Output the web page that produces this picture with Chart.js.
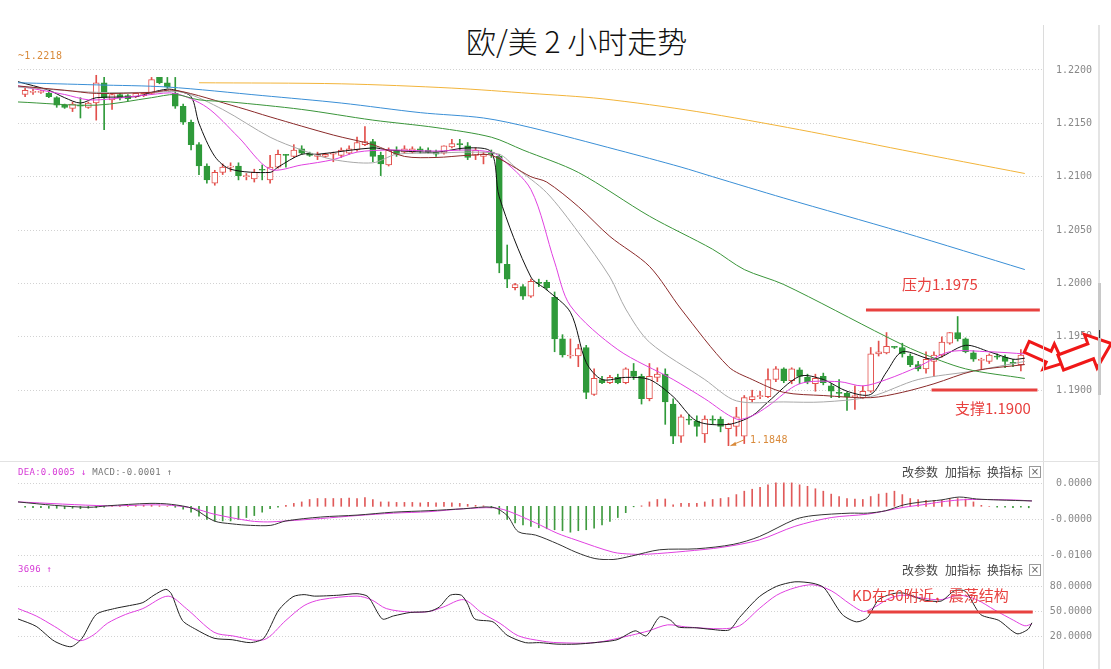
<!DOCTYPE html>
<html>
<head>
<meta charset="utf-8">
<script src="https://cdn.jsdelivr.net/npm/chart.js@4.4.0/dist/chart.umd.min.js"></script>
<style>
  body { margin:0; background:#fff; width:1111px; height:669px; overflow:hidden; position:relative; font-family:"Noto Sans CJK SC", sans-serif; }
  canvas { position:absolute; left:0; }
  .t { position:absolute; white-space:nowrap; line-height:1; }
  .mono { font-family:"DejaVu Sans Mono", monospace; font-size:9px; letter-spacing:0.3px; }
  .btn { font-size:12px; color:#444; }
  .box { position:absolute; width:10px; height:10px; border:1px solid #999; font-size:10px; line-height:10px; text-align:center; color:#666; font-family:"DejaVu Sans", sans-serif; }
  .red { color:#e8413f; font-size:15px; }
  .ln { position:absolute; }
</style>
</head>
<body>

<div class="t" style="left:466px;top:25px;font-size:30px;font-weight:300;color:#111;">欧/美 2 小时走势</div>

<canvas id="main" width="1111" height="470" style="top:0"></canvas>
<canvas id="macd" width="1111" height="109" style="top:461px"></canvas>
<canvas id="kd" width="1111" height="112" style="top:557px"></canvas>

<!-- frame lines -->
<div class="ln" style="left:1043px;top:25px;width:1px;height:644px;background:#dcdcdc"></div>
<div class="ln" style="left:0;top:461px;width:1098px;height:1px;background:#e2e2e2"></div>
<div class="ln" style="left:1098px;top:25px;width:2px;height:644px;background:#e4e4e4"></div>
<div class="ln" style="left:1098px;top:283px;width:3px;height:112px;background:#c8c8c8"></div>
<div class="ln" style="left:1099px;top:330px;width:1px;height:8px;background:#333"></div>

<!-- texts -->
<div class="t mono" style="left:18px;top:51px;color:#d98a3a;font-size:10px;">~1.2218</div>
<div class="t red" style="left:902px;top:276px;">压力1.1975</div>
<div class="t red" style="left:955px;top:400px;">支撑1.1900</div>
<div class="t mono" style="left:750px;top:435px;color:#d98a3a;font-size:10px;">1.1848</div>

<div class="t mono" style="left:18px;top:468px;"><span style="color:#d63ad6">DEA:0.0005 ↓</span> <span style="color:#777">MACD:-0.0001 ↑</span></div>
<div class="t btn" style="left:902px;top:466px;">改参数</div>
<div class="t btn" style="left:945px;top:466px;">加指标</div>
<div class="t btn" style="left:987px;top:466px;">换指标</div>
<div class="box" style="left:1029px;top:466px;">×</div>

<div class="t mono" style="left:18px;top:565px;color:#d63ad6">3696 ↑</div>
<div class="t btn" style="left:902px;top:564px;">改参数</div>
<div class="t btn" style="left:945px;top:564px;">加指标</div>
<div class="t btn" style="left:987px;top:564px;">换指标</div>
<div class="box" style="left:1029px;top:564px;">×</div>
<div class="t red" style="left:852px;top:587px;">KD在50附近，震荡结构</div>

<script>
// ---- candles (EUR/USD, 2h) ----
var opens  = [1.2177,1.2179,1.2179,1.2178,1.2174,1.2167,1.2164,1.2167,1.2165,1.2169,1.2188,1.2172,1.2177,1.2176,1.2175,1.2176,1.2178,1.2193,1.2188,1.2178,
              1.2166,1.2151,1.2130,1.2110,1.2094,1.2104,1.2109,1.2110,1.2100,1.2098,1.2107,1.2097,1.2109,1.2121,1.2119,1.2126,1.2122,1.2119,1.2119,1.2121,
              1.2120,1.2122,1.2125,1.2130,1.2133,1.2120,1.2111,1.2125,1.2123,1.2123,1.2126,1.2125,1.2123,1.2122,1.2128,1.2131,1.2129,1.2120,1.2119,1.2123,
              1.2119,1.2018,1.1996,1.1997,1.1988,1.2001,1.2001,1.1987,1.1948,1.1932,1.1932,1.1940,1.1896,1.1910,1.1907,1.1912,1.1907,1.1918,1.1913,1.1892,
              1.1912,1.1915,1.1887,1.1857,1.1873,1.1871,1.1859,1.1873,1.1873,1.1864,1.1866,1.1857,1.1891,1.1894,1.1894,1.1910,1.1920,1.1909,1.1919,1.1912,
              1.1906,1.1913,1.1904,1.1898,1.1897,1.1894,1.1893,1.1899,1.1934,1.1935,1.1941,1.1940,1.1932,1.1924,1.1920,1.1927,1.1933,1.1944,1.1954,1.1948,
              1.1935,1.1928,1.1927,1.1932,1.1931,1.1926,1.1924];
var highs  = [1.2183,1.2182,1.2181,1.2179,1.2175,1.2168,1.2170,1.2174,1.2170,1.2195,1.2193,1.2178,1.2178,1.2177,1.2179,1.2179,1.2193,1.2193,1.2193,1.2193,
              1.2168,1.2153,1.2132,1.2112,1.2106,1.2112,1.2113,1.2113,1.2103,1.2107,1.2111,1.2120,1.2125,1.2121,1.2130,1.2129,1.2123,1.2123,1.2122,1.2123,
              1.2127,1.2129,1.2137,1.2147,1.2135,1.2123,1.2127,1.2128,1.2129,1.2128,1.2128,1.2127,1.2125,1.2129,1.2135,1.2135,1.2132,1.2127,1.2123,1.2125,
              1.2121,1.2036,1.2000,1.1999,1.2004,1.2004,1.2003,1.1992,1.1952,1.1948,1.1943,1.1942,1.1920,1.1913,1.1914,1.1915,1.1921,1.1925,1.1915,1.1925,
              1.1921,1.1920,1.1892,1.1877,1.1877,1.1876,1.1876,1.1876,1.1875,1.1869,1.1884,1.1895,1.1900,1.1899,1.1920,1.1922,1.1921,1.1921,1.1921,1.1915,
              1.1915,1.1916,1.1906,1.1910,1.1898,1.1904,1.1904,1.1940,1.1946,1.1954,1.1941,1.1944,1.1934,1.1927,1.1936,1.1936,1.1950,1.1954,1.1969,1.1949,
              1.1937,1.1930,1.1934,1.1934,1.1933,1.1929,1.1938];
var lows   = [1.2175,1.2177,1.2178,1.2174,1.2165,1.2164,1.2161,1.2155,1.2164,1.2153,1.2144,1.2163,1.2172,1.2171,1.2174,1.2175,1.2177,1.2187,1.2183,1.2164,
              1.2149,1.2125,1.2102,1.2094,1.2092,1.2102,1.2105,1.2097,1.2097,1.2095,1.2097,1.2094,1.2108,1.2109,1.2118,1.2121,1.2119,1.2116,1.2118,1.2114,
              1.2118,1.2121,1.2124,1.2129,1.2114,1.2101,1.2110,1.2119,1.2122,1.2122,1.2122,1.2122,1.2119,1.2121,1.2127,1.2125,1.2116,1.2116,1.2112,1.2118,
              1.2010,1.1996,1.1994,1.1985,1.1987,1.1997,1.1994,1.1936,1.1931,1.1930,1.1922,1.1892,1.1895,1.1906,1.1906,1.1906,1.1906,1.1910,1.1887,1.1890,
              1.1908,1.1868,1.1850,1.1851,1.1868,1.1857,1.1851,1.1868,1.1861,1.1848,1.1857,1.1850,1.1889,1.1892,1.1893,1.1908,1.1907,1.1906,1.1906,1.1906,
              1.1899,1.1905,1.1893,1.1893,1.1881,1.1882,1.1892,1.1898,1.1932,1.1934,1.1939,1.1931,1.1922,1.1918,1.1916,1.1913,1.1931,1.1943,1.1946,1.1935,
              1.1927,1.1920,1.1925,1.1929,1.1921,1.1922,1.1918];
var closes = [1.2181,1.2179,1.2179,1.2175,1.2167,1.2165,1.2168,1.2166,1.2169,1.2188,1.2174,1.2177,1.2174,1.2173,1.2178,1.2178,1.2191,1.2188,1.2184,1.2166,
              1.2151,1.2130,1.2110,1.2097,1.2104,1.2109,1.2110,1.2101,1.2100,1.2104,1.2106,1.2109,1.2121,1.2120,1.2125,1.2122,1.2120,1.2121,1.2121,1.2121,
              1.2125,1.2126,1.2132,1.2133,1.2119,1.2112,1.2125,1.2121,1.2126,1.2126,1.2124,1.2123,1.2121,1.2129,1.2131,1.2130,1.2118,1.2125,1.2121,1.2121,
              1.2019,1.2004,1.1999,1.1988,1.2002,1.2000,1.1996,1.1948,1.1933,1.1932,1.1939,1.1898,1.1911,1.1907,1.1912,1.1907,1.1920,1.1913,1.1892,1.1913,
              1.1915,1.1889,1.1857,1.1875,1.1872,1.1866,1.1873,1.1872,1.1866,1.1868,1.1875,1.1893,1.1894,1.1894,1.1910,1.1920,1.1909,1.1920,1.1913,1.1908,
              1.1911,1.1907,1.1899,1.1897,1.1894,1.1894,1.1899,1.1934,1.1936,1.1941,1.1940,1.1934,1.1924,1.1920,1.1929,1.1933,1.1945,1.1954,1.1948,1.1936,
              1.1929,1.1928,1.1933,1.1931,1.1927,1.1925,1.1933];

// ---- moving averages, read at sample candles [index, price] ----
var ma5   = [[-0.9,1.2189],[3,1.2181],[5,1.2174],[7,1.2169],[9,1.2174],[14,1.2175],[16,1.2179],[18,1.2182],[19,1.2181],[21,1.2175],[22,1.2150],[24,1.2119],[26,1.2107],
             [31,1.2104],[32,1.2109],[35,1.2121],[37,1.2121],[44,1.2127],[46,1.2125],[52,1.2123],[56,1.2127],[59,1.2123],[60,1.2081],[64,1.2006],[66,1.1994],
             [69,1.1973],[71,1.1926],[73,1.1910],[76,1.1912],[79,1.1910],[82,1.1894],[85,1.1871],[89,1.1868],[92,1.1876],[94,1.1889],[98,1.1913],[101,1.1910],
             [104,1.1899],[107,1.1896],[109,1.1917],[111,1.1936],[115,1.1929],[119,1.1942],[122,1.1936],[125,1.1929],[126.5,1.1930]];
var ma10  = [[-0.9,1.2185],[5,1.2177],[8,1.2172],[11,1.2173],[16,1.2177],[19,1.2178],[23,1.2165],[27,1.2137],[31,1.2107],[35,1.2111],[39,1.2116],[42,1.2123],
             [46,1.2125],[52,1.2124],[56,1.2125],[59,1.2123],[60,1.2119],[64,1.2088],[67,1.2020],[69,1.1979],[75,1.1938],[82,1.1910],[86,1.1892],[90,1.1873],
             [92,1.1876],[94,1.1885],[98,1.1906],[103,1.1908],[106,1.1904],[109,1.1910],[113,1.1922],[117,1.1936],[122,1.1936],[126.5,1.1934]];
var ma20  = [[-0.9,1.2184],[9,1.2179],[16,1.2179],[20,1.2179],[25,1.2163],[31,1.2137],[35,1.2125],[39,1.2116],[44,1.2113],[47,1.2121],[52,1.2122],[56,1.2123],
             [60,1.2121],[62,1.2109],[66,1.2085],[70,1.2048],[74,1.2006],[76,1.1976],[79,1.1945],[86,1.1910],[90,1.1890],[96,1.1889],[101,1.1889],[107,1.1894],
             [113,1.1910],[120,1.1918],[126.5,1.1927]];
var ma30  = [[-0.9,1.2185],[5,1.2181],[9,1.2178],[16,1.2179],[19,1.2181],[27,1.2165],[31,1.2156],[39,1.2139],[44,1.2130],[48,1.2119],[52,1.2118],[56,1.2120],
             [59,1.2120],[64,1.2100],[66,1.2095],[70,1.2072],[74,1.2044],[79,1.2016],[83,1.1976],[89,1.1922],[92,1.1910],[96,1.1898],[101,1.1895],[107,1.1893],
             [111,1.1898],[115,1.1906],[120,1.1918],[126.5,1.1924]];
var ma60  = [[-0.9,1.2170],[9,1.2167],[16,1.2174],[19,1.2177],[22,1.2172],[26,1.2170],[35,1.2163],[44,1.2153],[52,1.2146],[59,1.2137],[63,1.2125],[70,1.2104],
             [79,1.2063],[87,1.2032],[91,1.2013],[96,1.1999],[109,1.1950],[113,1.1936],[119,1.1920],[126.5,1.1911]];
var ma120 = [[-0.9,1.2188],[9,1.2186],[18,1.2184],[30,1.2176],[40,1.2169],[50,1.2160],[58,1.2155],[64,1.2146],[75,1.2125],[83,1.2109],[87,1.2100],[96,1.2080],
             [111,1.2048],[126.5,1.2013]];
var ma250 = [[22,1.2188],[40,1.2187],[54,1.2183],[64,1.2178],[73,1.2173],[85,1.2161],[98,1.2144],[111,1.2125],[126.5,1.2103]];

var priceTicks = [1.2200, 1.2150, 1.2100, 1.2050, 1.2000, 1.1950, 1.1900];
var resistance = 1.1975, resistanceSpan = [106.4, 128.4];
var support = 1.1900, supportSpan = [114.7, 128.1];
var lowIndex = 89, lowPrice = 1.1848;

// ---- MACD ----
var dif = [[-0.9,0.00009],[3.7,0.00002],[8.1,-0.00002],[10.4,0.00001],[15.8,0.00006],[18.5,0.00004],[21.3,-0.00005],[23.9,-0.0003],[26.2,-0.00036],
           [28.5,-0.00039],[31.1,-0.00039],[33.0,-0.0003],[37.4,-0.00022],[42.0,-0.00018],[46.6,-0.00012],[51.1,-0.00009],[55.5,-0.00005],[59.2,-0.00002],
           [61.0,-0.00019],[62.4,-0.00052],[64.6,-0.00059],[67.4,-0.00077],[69.7,-0.00094],[72.1,-0.00107],[74.4,-0.00109],[76.7,-0.00102],[80.3,-0.00089],
           [85.0,-0.00087],[89.6,-0.00078],[92.9,-0.00062],[97.4,-0.00027],[99.7,-0.00019],[104.4,-0.00014],[106.6,-0.00014],[108.9,-0.00009],[111.2,0.00003],
           [113.5,0.00009],[115.9,0.00013],[118.2,0.00019],[120.4,0.00015],[123.2,0.00013],[127.4,0.00011]];
var dea = [[-0.9,0.00009],[10.4,0.00001],[15.8,0.00003],[18.5,0.00002],[21.3,-0.00004],[23.9,-0.00016],[28.5,-0.0003],[30.7,-0.00032],[33.0,-0.0003],
           [37.4,-0.00025],[42.0,-0.00019],[46.6,-0.00014],[51.1,-0.00011],[55.5,-0.00005],[59.2,-0.00003],[61.0,-0.00009],[64.6,-0.00034],[67.3,-0.00055],
           [69.7,-0.00069],[74.4,-0.00094],[76.7,-0.00098],[78.9,-0.00098],[83.6,-0.00092],[88.2,-0.00084],[92.9,-0.00069],[97.4,-0.00041],[102.0,-0.00023],
           [106.6,-0.00016],[111.2,-0.00002],[113.5,0.00003],[115.9,0.00009],[118.2,0.00013],[120.4,0.00014],[125.1,0.00013],[127.4,0.00011]];
var macdHist = [-0.00002,-0.00003,-0.00003,-0.00004,-0.00004,-0.00005,-0.00004,-0.00005,-0.00004,-0.00003,-0.00002,0.00001,0.00001,0.00001,0.00002,0.00002,
           0.00002,0.00001,0,-0.00002,-0.00006,-0.00012,-0.0002,-0.00027,-0.0003,-0.0003,-0.0003,-0.00027,-0.00023,-0.00019,-0.00012,-0.00005,-0.00002,0.00002,
           0.00006,0.00009,0.00014,0.00016,0.00016,0.00016,0.00016,0.00017,0.00016,0.00018,0.00014,0.00009,0.00009,0.00008,0.00008,0.00008,0.00007,0.00008,
           0.00007,0.00008,0.00007,0.00006,0.00004,0.00002,0.00001,-0.00003,-0.00016,-0.00027,-0.00034,-0.00038,-0.00041,-0.00044,-0.00046,-0.00048,-0.0005,
           -0.00053,-0.0005,-0.00048,-0.00045,-0.00038,-0.00031,-0.00023,-0.00013,-0.00001,0.00001,0.00009,0.00014,0.00015,0.00003,0.00006,0.00006,0.00006,
           0.00009,0.00014,0.00016,0.00018,0.00024,0.00031,0.00035,0.00039,0.00044,0.00048,0.00048,0.00048,0.00044,0.00041,0.00036,0.00031,0.00025,0.0002,
           0.00016,0.00015,0.00014,0.0002,0.00025,0.00027,0.00031,0.00024,0.00016,0.00014,0.00012,0.00012,0.00012,0.00016,0.00016,0.00015,0.00009,0.00002,0,
           -0.00002,-0.00002,-0.00003,-0.00002,-0.00003];
var macdTicks = [0.00046, -0.00027, -0.001];
var macdTickLabels = ['0.0000', '-0.0000', '-0.0100'];

// ---- KD ----
var kdK = [[-0.9,41.4],[1.4,32.5],[3.7,14.7],[5.8,8],[7.2,18.2],[9.0,46.8],[11.3,53.9],[13.2,57.5],[14.9,61.1],[16.3,70],[17.8,77.1],[18.5,71.8],[19.9,39.7],
           [21.6,28.9],[23.9,18.2],[26.2,16.4],[28.5,12.9],[30.2,18.2],[32.1,52.2],[33.9,68.2],[35.3,70.7],[36.6,68.9],[39.7,70],[42.0,71.8],[43.4,68.2],
           [45.2,41.4],[46.6,45],[48.8,49.3],[51.1,50.4],[52.4,55.7],[53.8,70],[55.2,70],[56.0,59.3],[56.9,41.4],[59.2,37.9],[61.0,21.8],[63.3,12.9],[65.1,12.9],
           [67.3,11.1],[69.7,11.1],[72.1,12.9],[74.9,16.4],[77.2,27.1],[78.6,21.1],[80.3,43.9],[81.7,39.7],[82.6,31.8],[85.0,30.7],[86.8,28.9],[89.1,28.2],
           [90.4,43.2],[92.9,68.2],[95.1,80.7],[97.4,86.1],[99.7,84.3],[101.1,78.9],[103.4,46.8],[105.2,37.9],[106.6,43.2],[108.0,64.6],[109.8,71.8],[111.2,72.5],
           [113.6,64.6],[115.9,62.9],[117.6,75.4],[119.0,74.6],[120.9,46.8],[123.2,39.7],[125.5,23.6],[126.9,28.9],[127.4,36.8]];
var kdD = [[-0.9,53.9],[1.4,45],[3.7,32.5],[6.8,15.4],[8.6,21.8],[10.4,36.1],[12.7,46.8],[14.9,53.9],[18.1,68.9],[20.4,53.9],[23.9,25.4],[26.2,21.1],[30.2,16.4],
           [33.0,39.7],[35.3,57.5],[37.4,64.6],[42.0,68.9],[43.8,64.6],[45.7,53.9],[48.8,49.6],[51.1,50.4],[52.9,55.7],[55.5,64.6],[57.8,48.6],[60.1,36.1],
           [62.4,21.1],[65.5,14.7],[67.3,12.9],[72.1,12.9],[76.7,21.8],[78.9,27.1],[81.3,34.3],[83.6,31.8],[88.2,29.6],[90.4,33.2],[92.9,53.9],[95.1,70],
           [97.4,78.9],[99.7,82.5],[102.0,75.4],[104.4,59.3],[106.1,50.4],[107.5,55.7],[109.4,66.4],[111.2,70],[113.6,66.4],[115.9,64.6],[118.2,70],[120.4,64.6],
           [122.7,52.1],[125.1,39.7],[126.5,33.2],[127.4,35.4]];
var kdTicks = [80, 50, 20];
var kdLevel = 50, kdLevelSpan = [106.6, 127.5];

// ---- drawing ----
var UP = '#e2504c', DOWN = '#2f9a3a', LEVEL = '#e8413f';
var AXIS_FONT = { family: 'DejaVu Sans Mono', size: 10 };

function pts(arr) { return arr.map(function (p) { return { x: p[0], y: p[1] }; }); }
function maLine(arr, color) {
  return { type: 'line', data: pts(arr), borderColor: color, borderWidth: 1, pointRadius: 0, tension: 0.3, order: 0 };
}
function xScale() {
  return { type: 'linear', min: -0.9, max: 128.8, offset: false, display: false };
}
// labels right-aligned at x=1092: axis box spans 1043..1092, page padding 19 on the right
function yScale(min, max, ticks, labelFn) {
  return {
    position: 'right', min: min, max: max,
    afterFit: function (s) { s.width = 49; },
    afterBuildTicks: function (s) { s.ticks = ticks.map(function (v) { return { value: v }; }); },
    ticks: { callback: labelFn, crossAlign: 'far', padding: 4, color: '#888', font: AXIS_FONT },
    grid: { color: '#d2d2d2', drawTicks: false },
    border: { display: false, dash: [1, 2] }
  };
}
var baseOpts = { responsive: false, animation: false, events: [], devicePixelRatio: 1 };
function opts(pad, scales) {
  return Object.assign({}, baseOpts, {
    layout: { padding: pad },
    plugins: { legend: { display: false }, tooltip: { enabled: false } },
    scales: scales
  });
}

function hLine(chart, value, span, width) {
  var ctx = chart.ctx, x = chart.scales.x, y = chart.scales.y;
  var py = Math.round(y.getPixelForValue(value));
  ctx.save();
  ctx.strokeStyle = LEVEL; ctx.lineWidth = width;
  ctx.beginPath();
  ctx.moveTo(x.getPixelForValue(span[0]), py);
  ctx.lineTo(x.getPixelForValue(span[1]), py);
  ctx.stroke();
  ctx.restore();
}

function blockArrow(ctx, cx, cy, len, ang, bh, hh, hl) {
  ctx.save();
  ctx.translate(cx, cy); ctx.rotate(ang);
  var a = -len / 2, b = len / 2 - hl, c = len / 2;
  ctx.beginPath();
  ctx.moveTo(a, -bh); ctx.lineTo(b, -bh); ctx.lineTo(b, -hh); ctx.lineTo(c, 0);
  ctx.lineTo(b, hh); ctx.lineTo(b, bh); ctx.lineTo(a, bh); ctx.closePath();
  ctx.fillStyle = '#fff'; ctx.fill();
  ctx.strokeStyle = '#f01818'; ctx.lineWidth = 3; ctx.lineJoin = 'miter'; ctx.stroke();
  ctx.restore();
}

var mainMarks = {
  id: 'mainMarks',
  afterDatasetsDraw: function (chart) {
    hLine(chart, resistance, resistanceSpan, 3);
    hLine(chart, support, supportSpan, 3);
    var ctx = chart.ctx;
    var px = chart.scales.x.getPixelForValue(lowIndex) + 2;
    var py = chart.scales.y.getPixelForValue(lowPrice);
    ctx.save();
    ctx.strokeStyle = '#d98a3a'; ctx.fillStyle = '#d98a3a'; ctx.lineWidth = 1;
    ctx.beginPath(); ctx.moveTo(px, py); ctx.lineTo(px + 14, py - 6); ctx.stroke();
    ctx.beginPath(); ctx.moveTo(px, py); ctx.lineTo(px + 5, py - 4); ctx.lineTo(px + 6, py); ctx.closePath(); ctx.fill();
    ctx.restore();
  },
  afterDraw: function (chart) {
    blockArrow(chart.ctx, 1045, 355, 40, 0.42, 6, 14, 16);
    blockArrow(chart.ctx, 1086, 353, 54, -0.36, 8, 18, 22);
  }
};

var wicks = opens.map(function (o, i) { return { x: i, y: [lows[i], highs[i]] }; });
var bodies = opens.map(function (o, i) { return { x: i, y: [o, closes[i]] }; });
function isUp(i) { return closes[i] >= opens[i]; }

new Chart(document.getElementById('main'), {
  type: 'bar',
  data: { datasets: [
    maLine(ma250, '#f2b43a'),
    maLine(ma120, '#3a8fd6'),
    maLine(ma60, '#3a953a'),
    maLine(ma30, '#8a2a2a'),
    maLine(ma20, '#a8a8a8'),
    maLine(ma10, '#e040e0'),
    maLine(ma5, '#111111'),
    { type: 'bar', data: bodies, grouped: false, order: 1, barThickness: 6, minBarLength: 1,
      borderWidth: 1, borderSkipped: false,
      backgroundColor: function (c) { return isUp(c.dataIndex) ? '#ffffff' : DOWN; },
      borderColor: function (c) { return isUp(c.dataIndex) ? UP : DOWN; } },
    { type: 'bar', data: wicks, grouped: false, order: 2, barThickness: 1,
      backgroundColor: function (c) { return isUp(c.dataIndex) ? UP : DOWN; } }
  ] },
  options: opts({ left: 18, top: 25, bottom: 9, right: 19 }, {
    x: xScale(),
    y: yScale(1.18346, 1.22421, priceTicks, function (v) { return v.toFixed(4); })
  }),
  plugins: [mainMarks]
});

new Chart(document.getElementById('macd'), {
  type: 'bar',
  data: { datasets: [
    { type: 'line', data: pts(dif), borderColor: '#333333', borderWidth: 1, pointRadius: 0, tension: 0.3, order: 0 },
    { type: 'line', data: pts(dea), borderColor: '#e040e0', borderWidth: 1, pointRadius: 0, tension: 0.3, order: 0 },
    { type: 'bar', data: macdHist.map(function (v, i) { return { x: i, y: v }; }), grouped: false, order: 1, barThickness: 1,
      backgroundColor: function (c) { return macdHist[c.dataIndex] >= 0 ? '#e05a5a' : '#3f9a3f'; } }
  ] },
  options: opts({ left: 18, top: 17, bottom: 8, right: 19 }, {
    x: xScale(),
    y: yScale(-0.0011, 0.00058, macdTicks, function (v, i) { return macdTickLabels[i]; })
  })
});

var kdMarks = {
  id: 'kdMarks',
  afterDatasetsDraw: function (chart) { hLine(chart, kdLevel, kdLevelSpan, 3); }
};

new Chart(document.getElementById('kd'), {
  type: 'line',
  data: { datasets: [
    { data: pts(kdK), borderColor: '#222222', borderWidth: 1, pointRadius: 0, tension: 0.25 },
    { data: pts(kdD), borderColor: '#e040e0', borderWidth: 1, pointRadius: 0, tension: 0.3 }
  ] },
  options: opts({ left: 18, top: 21, bottom: 0, right: 19 }, {
    x: xScale(),
    y: yScale(-6.8, 90.7, kdTicks, function (v) { return v.toFixed(4); })
  }),
  plugins: [kdMarks]
});
</script>
</body>
</html>
